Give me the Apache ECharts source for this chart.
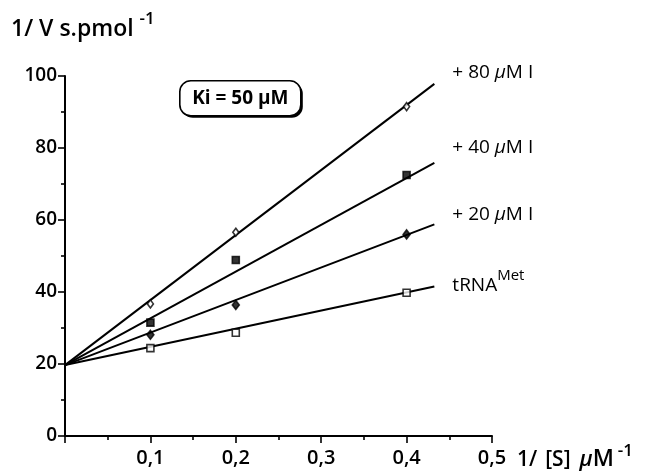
<!DOCTYPE html>
<html>
<head>
<meta charset="utf-8">
<script src="https://cdn.jsdelivr.net/npm/echarts@6/dist/echarts.min.js"></script>
<style>html,body{margin:0;padding:0;background:#fff}#c{width:655px;height:472px}</style>
</head>
<body>
<div id="c"></div>
<script>
// ---- data ----
const xPoints = [0.1, 0.2, 0.4];
const pts80 = [36.7, 56.6, 91.5];
const pts40 = [31.5, 48.9, 72.5];
const pts20 = [28.1, 36.4, 56.0];
const ptsCtrl = [24.4, 28.7, 39.8];

const lineX = [0, 0.4325];
const line80 = [19.7, 97.8];
const line40 = [19.7, 75.9];
const line20 = [19.7, 58.8];
const lineCtrl = [19.7, 41.5];

const xTicks = [0, 0.1, 0.2, 0.3, 0.4, 0.5];
const yTicks = [0, 20, 40, 60, 80, 100];

const seriesNames = ['+ 80 µM I', '+ 40 µM I', '+ 20 µM I', 'tRNAMet'];

const FONT = 'Open Sans';
const zip = (xs, ys) => xs.map((x, i) => [x, ys[i]]);

const chart = echarts.init(document.getElementById('c'), null, {renderer: 'canvas'});

function fitLine(vals, labelText, offY) {
  return {
    type: 'line',
    data: zip(lineX, vals),
    symbol: 'none',
    lineStyle: {color: '#000', width: 2},
    silent: true,
    z: 2,
    endLabel: {
      show: true,
      formatter: () => labelText,
      offset: [10, offY],
      color: '#000',
      fontFamily: FONT,
      fontSize: 19,
      rich: {
        mu: {fontFamily: FONT, fontSize: 19, fontStyle: 'italic', color: '#000'},
        base: {fontFamily: FONT, fontSize: 19, color: '#000', lineHeight: 26, verticalAlign: 'bottom'},
        sup: {fontFamily: FONT, fontSize: 15, color: '#000', lineHeight: 26, verticalAlign: 'top'}
      }
    }
  };
}

function pts(vals, symbol, size, filled) {
  return {
    type: 'scatter',
    data: zip(xPoints, vals),
    symbol: symbol,
    symbolSize: size,
    itemStyle: {color: filled ? '#000' : '#fff', borderColor: '#000', borderWidth: 1.6},
    z: 5
  };
}

const muLabel = s => s.replace('µM', '{mu|µ}M');

chart.setOption({
  animation: false,
  backgroundColor: '#fff',
  grid: {left: 65, right: 163, top: 76, bottom: 36, containLabel: false},
  xAxis: {
    type: 'value', min: xTicks[0], max: xTicks[xTicks.length - 1], interval: 0.1,
    axisLine: {show: true, lineStyle: {color: '#000', width: 2}},
    axisTick: {show: true, length: 7, lineStyle: {color: '#000', width: 1.6}},
    minorTick: {show: true, splitNumber: 2, length: 4, lineStyle: {color: '#000', width: 1.6}},
    splitLine: {show: false},
    axisLabel: {
      margin: 12, color: '#000', fontFamily: FONT, fontSize: 20, fontWeight: 600,
      formatter: v => (Math.abs(v) < 1e-9 ? '' : v.toFixed(1).replace('.', ','))
    }
  },
  yAxis: {
    type: 'value', min: yTicks[0], max: yTicks[yTicks.length - 1], interval: 20,
    axisLine: {show: true, lineStyle: {color: '#000', width: 2}},
    axisTick: {show: true, length: 7, lineStyle: {color: '#000', width: 1.6}},
    minorTick: {show: true, splitNumber: 2, length: 4, lineStyle: {color: '#000', width: 1.6}},
    splitLine: {show: false},
    axisLabel: {margin: 8, color: '#000', fontFamily: FONT, fontSize: 19, fontWeight: 600}
  },
  series: [
    fitLine(line80, muLabel(seriesNames[0]), -11),
    fitLine(line40, muLabel(seriesNames[1]), -15),
    fitLine(line20, muLabel(seriesNames[2]), -10),
    fitLine(lineCtrl, '{base|tRNA}{sup|Met}', -5),
    pts(pts80, 'diamond', [6, 8], false),
    pts(pts40, 'rect', 7, true),
    pts(pts20, 'diamond', [7, 9], true),
    pts(ptsCtrl, 'rect', 7, false)
  ],
  graphic: [
    {
      type: 'text', left: 11, top: 11,
      style: {
        text: '{b|1/ V s.pmol }{s|-1}',
        rich: {
          b: {fontFamily: FONT, fontSize: 23, fontWeight: 600, fill: '#000', lineHeight: 30, verticalAlign: 'bottom'},
          s: {fontFamily: FONT, fontSize: 17, fontWeight: 600, fill: '#000', lineHeight: 30, verticalAlign: 'top'}
        }
      }
    },
    {
      type: 'text', left: 517, top: 443,
      style: {
        text: '{a|1/}{c|[S]}{i|µ}{m|M}{s|-1}',
        rich: {
          a: {fontFamily: FONT, fontSize: 21, fontWeight: 600, fill: '#000', lineHeight: 28, verticalAlign: 'bottom', padding: [0, 8, 0, 0]},
          c: {fontFamily: FONT, fontSize: 21, fontWeight: 600, fill: '#000', lineHeight: 28, verticalAlign: 'bottom', padding: [0, 9, 0, 0]},
          i: {fontFamily: FONT, fontSize: 22, fontWeight: 600, fontStyle: 'italic', fill: '#000', lineHeight: 28, verticalAlign: 'bottom'},
          m: {fontFamily: FONT, fontSize: 23, fontWeight: 600, fill: '#000', lineHeight: 28, verticalAlign: 'bottom', padding: [0, 4, 0, 0]},
          s: {fontFamily: FONT, fontSize: 17, fontWeight: 600, fill: '#000', lineHeight: 28, verticalAlign: 'top'}
        }
      }
    },
    {
      type: 'group', left: 179, top: 80,
      children: [
        {type: 'rect', shape: {x: 2, y: 2, width: 121, height: 35, r: 11}, style: {fill: '#000'}},
        {type: 'rect', shape: {x: 0, y: 0, width: 121, height: 35, r: 11}, style: {fill: '#fff', stroke: '#000', lineWidth: 1.6}},
        {type: 'text', x: 60.5, y: 18, style: {text: 'Ki = 50 µM', fontFamily: FONT, fontSize: 19, fontWeight: 'bold', fill: '#000', align: 'center', verticalAlign: 'middle'}}
      ]
    }
  ]
});
</script>
</body>
</html>
